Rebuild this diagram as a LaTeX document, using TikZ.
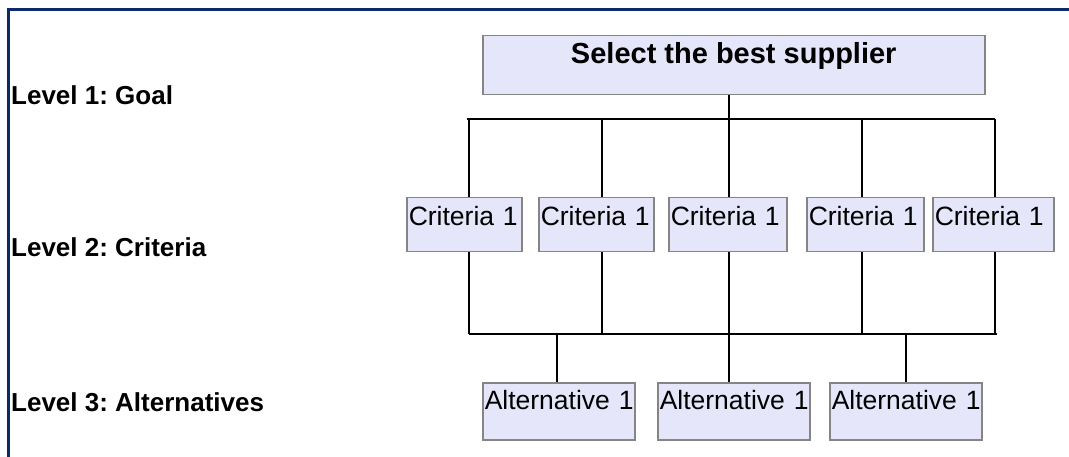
\documentclass[tikz,border=0pt]{standalone}
\usepackage{fontspec}
\setmainfont{Liberation Sans}
\frenchspacing
\usetikzlibrary{positioning,calc}
\definecolor{ahpNavy}{HTML}{0C2A6A}
\definecolor{ahpLav}{HTML}{E6E6FA}
\definecolor{ahpEdge}{HTML}{858585}
\tikzset{
  goalbox/.style={draw=ahpEdge, fill=ahpLav, line width=1.5pt, anchor=north west,
              minimum width=502pt, inner sep=0pt, text height=28pt, text depth=31pt,
              font=\fontsize{29}{32}\selectfont\bfseries},
  critbox/.style={draw=ahpEdge, fill=ahpLav, line width=1.5pt, anchor=north west,
              inner xsep=2pt, inner ysep=0pt, align=left, text height=28pt, text depth=26pt,
              font=\fontsize{26.5}{30}\selectfont},
  altbox/.style={critbox, text height=27pt, text depth=30pt},
  lvl/.style={anchor=base west, inner sep=0pt, font=\fontsize{26}{30}\selectfont\bfseries},
  link/.style={draw=black, line width=1.6pt},
  frame/.style={draw=ahpNavy, line width=3pt},
}

\begin{document}
\begin{tikzpicture}[x=1pt,y=-1pt]
        \useasboundingbox (0,0) rectangle (1069,457);
        \draw[frame] (8.5,457) -- (8.5,10) -- (1069,10);
        % levels
        \node[lvl] (l1) at (11,105) {Level 1: Goal};
        \node[lvl] (l2) at (11,257) {Level 2: Criteria};
        \node[lvl] (l3) at (11,411) {Level 3: Alternatives};
        % goal
        \node[goalbox] (goal) at (482,35) {Select the best supplier};
        \coordinate (gs) at (729,119);
        \coordinate (tbL) at (467,119);
        \coordinate (tbR) at (995,119);
        \draw[link] (goal.south -| gs) -- (gs);
        \draw[link] (tbL) -- (tbR);
        % criteria
        \coordinate (bbL) at (469,334);
        \coordinate (bbR) at (997,334);
        \draw[link] (bbL) -- (bbR);
        \foreach \i/\l/\w/\s in {1/406/115/469,2/538/115/602,3/668/118/729,4/806/117/862,5/932/121/995}{
          \node[critbox,text width=\w pt-4pt] (c\i) at (\l,197) {\mbox{Criteria 1}};
          \coordinate (cs\i) at (\s,119);
          \coordinate (cb\i) at (\s,334);
          \draw[link] (cs\i) -- (cs\i |- c\i.north);
          \draw[link] (cs\i |- c\i.south) -- (cb\i);
        }
        % alternatives
        \foreach \i/\l/\s in {1/482/557,2/657/729,3/829/906}{
          \node[altbox,text width=148pt] (a\i) at (\l,382) {\mbox{Alternative 1}};
          \coordinate (as\i) at (\s,334);
          \draw[link] (as\i) -- (as\i |- a\i.north);
        }
\end{tikzpicture}
\end{document}
